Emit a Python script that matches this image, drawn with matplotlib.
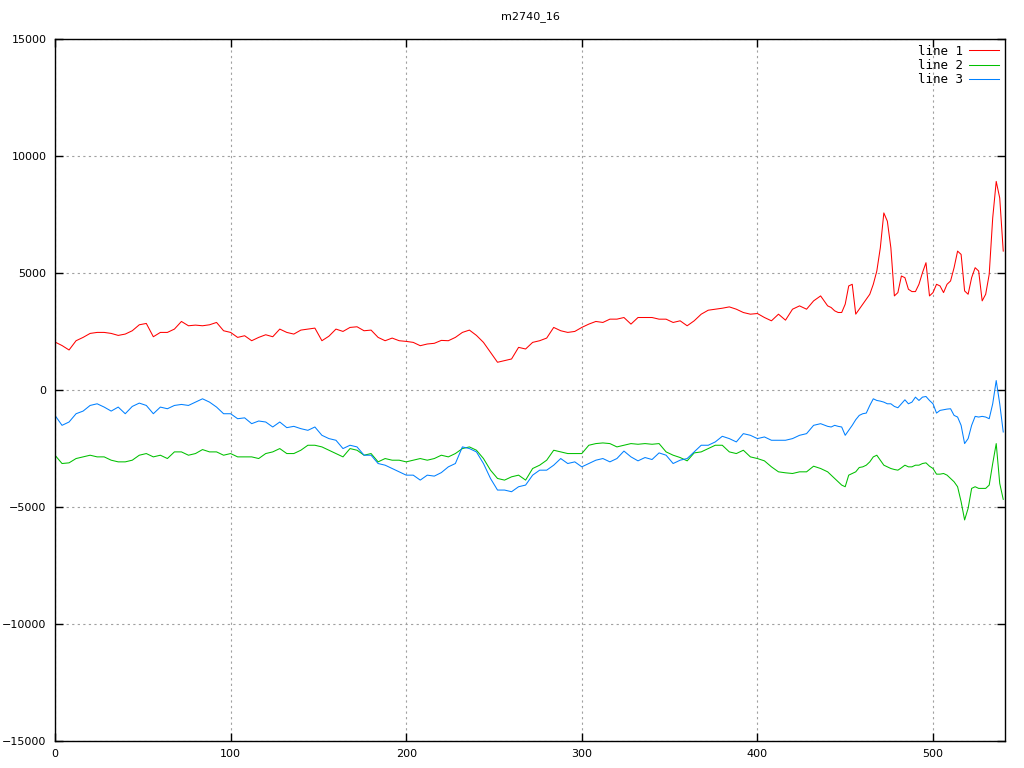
import numpy as np
import matplotlib
matplotlib.use("Agg")
import matplotlib.pyplot as plt

title = "m2740_16"
labels = ["line 1", "line 2", "line 3"]
colors = ["#ff0000", "#00c000", "#0080ff"]

x_coarse = np.arange(0, 440, 4)
x_fine = np.arange(440, 541, 2)
x = np.concatenate([x_coarse, x_fine])

line1 = [2050, 1900, 1710, 2106, 2248, 2418, 2461, 2461, 2418, 2333,
         2390, 2532, 2787, 2844, 2276, 2461, 2461, 2603, 2929, 2745,
         2773, 2745, 2787, 2887, 2532, 2461, 2248, 2319, 2106, 2248,
         2361, 2276, 2603, 2461, 2390, 2560, 2603, 2645, 2106, 2300,
         2603, 2503, 2674, 2702, 2532, 2560, 2248, 2106, 2219, 2106,
         2077, 2035, 1893, 1966, 1995, 2120, 2106, 2248, 2461, 2560,
         2333, 2035, 1610, 1185, 1255, 1326, 1823, 1752, 2035, 2106,
         2219, 2674, 2532, 2461, 2503, 2674, 2816, 2929, 2887, 3028,
         3028, 3098, 2816, 3098, 3098, 3098, 3027, 3027, 2886, 2957,
         2744, 2957, 3240, 3410, 3453, 3495, 3552, 3453, 3311, 3240,
         3268, 3098, 2957, 3240, 2985, 3453, 3595, 3453, 3808, 4021,
         3596, 3525, 3383, 3312, 3312, 3667, 4447, 4518, 3241, 3454,
         3667, 3880, 4092, 4518, 5085, 6078, 7567, 7213, 6078, 4021,
         4163, 4872, 4801, 4305, 4206, 4206, 4518, 5015, 5440, 4021,
         4163, 4518, 4447, 4163, 4518, 4660, 5227, 5936, 5794, 4234,
         4092, 4801, 5227, 5085, 3809, 4092, 4943, 7354, 8914, 8205,
         5936]

line2 = [-2787, -3142, -3113, -2929, -2858, -2787, -2858, -2858, -3000, -3071,
         -3071, -3000, -2787, -2716, -2858, -2787, -2929, -2645, -2645, -2787,
         -2716, -2546, -2645, -2645, -2787, -2716, -2858, -2858, -2858, -2929,
         -2716, -2645, -2503, -2716, -2716, -2574, -2361, -2361, -2432, -2574,
         -2716, -2858, -2503, -2574, -2787, -2716, -3071, -2929, -3000, -3000,
         -3071, -3000, -2929, -3000, -2929, -2787, -2858, -2716, -2503, -2432,
         -2574, -2929, -3426, -3780, -3851, -3710, -3639, -3851, -3355, -3213,
         -3000, -2574, -2645, -2716, -2716, -2716, -2361, -2290, -2262, -2290,
         -2432, -2361, -2290, -2319, -2290, -2319, -2290, -2645, -2786, -2886,
         -3028, -2688, -2645, -2503, -2361, -2361, -2645, -2716, -2574, -2858,
         -2929, -3028, -3284, -3497, -3539, -3568, -3497, -3497, -3256, -3355,
         -3497, -3639, -3780, -3922, -4064, -4134, -3639, -3568, -3497, -3312,
         -3284, -3213, -3071, -2858, -2787, -3000, -3213, -3284, -3355, -3397,
         -3426, -3326, -3213, -3284, -3284, -3213, -3213, -3142, -3113, -3256,
         -3355, -3596, -3596, -3568, -3639, -3780, -3922, -4134, -4772, -5553,
         -5056, -4205, -4134, -4205, -4205, -4205, -4064, -3142, -2290, -3993,
         -4673]

line3 = [-1085, -1510, -1368, -1014, -901, -660, -589, -730, -901, -730,
         -1014, -702, -560, -660, -1014, -730, -801, -660, -617, -660,
         -518, -376, -518, -730, -1014, -1014, -1227, -1190, -1439, -1325,
         -1368, -1581, -1368, -1609, -1553, -1652, -1723, -1581, -1936, -2077,
         -2148, -2503, -2361, -2432, -2787, -2787, -3142, -3213, -3355, -3497,
         -3639, -3639, -3851, -3639, -3680, -3530, -3284, -3142, -2432, -2503,
         -2645, -3142, -3780, -4276, -4276, -4347, -4134, -4063, -3639, -3426,
         -3426, -3213, -2929, -3142, -3071, -3284, -3142, -3000, -2929, -3071,
         -2929, -2610, -2858, -3028, -2886, -2971, -2688, -2786, -3142, -3000,
         -2929, -2645, -2361, -2361, -2219, -1978, -2077, -2219, -1865, -1936,
         -2077, -2006, -2148, -2148, -2148, -2077, -1936, -1865, -1510, -1439,
         -1553, -1581, -1510, -1553, -1581, -1936, -1723, -1510, -1269, -1085,
         -1014, -986, -660, -376, -447, -475, -518, -589, -589, -702,
         -759, -589, -419, -589, -518, -305, -447, -305, -277, -447,
         -589, -986, -872, -844, -816, -801, -1085, -1156, -1510, -2290,
         -2077, -1510, -1127, -1156, -1127, -1156, -1227, -589, 404, -589,
         -1794]

xticks = [0, 100, 200, 300, 400, 500]
yticks = [-15000, -10000, -5000, 0, 5000, 10000, 15000]

fig = plt.figure(figsize=(10.24, 7.68), dpi=100)
ax = fig.add_axes([55 / 1024, 27 / 768, 950 / 1024, 702 / 768])

for y, lab, c in zip([line1, line2, line3], labels, colors):
    ax.plot(x, y, color=c, lw=0.75, label=lab)

ax.set_xlim(0, 541)
ax.set_ylim(-15000, 15000)
ax.set_xticks(xticks)
ax.set_yticks(yticks)
ax.tick_params(direction="in", length=6, width=1, labelsize=8,
               top=True, right=True, pad=6)
for s in ax.spines.values():
    s.set_linewidth(1.0)
ax.grid(True, color="#a0a0a0", linestyle=(0, (2, 3)), linewidth=0.8)
ax.set_axisbelow(True)

ax.set_title(title, fontsize=8, pad=14)

leg = ax.legend(loc="upper right", frameon=False, markerfirst=False,
                handlelength=2.4, handletextpad=0.5, labelspacing=0.1,
                borderaxespad=0.25, borderpad=0.2,
                prop={"family": "DejaVu Sans Mono", "size": 9})

fig.savefig("out.png", dpi=100)
